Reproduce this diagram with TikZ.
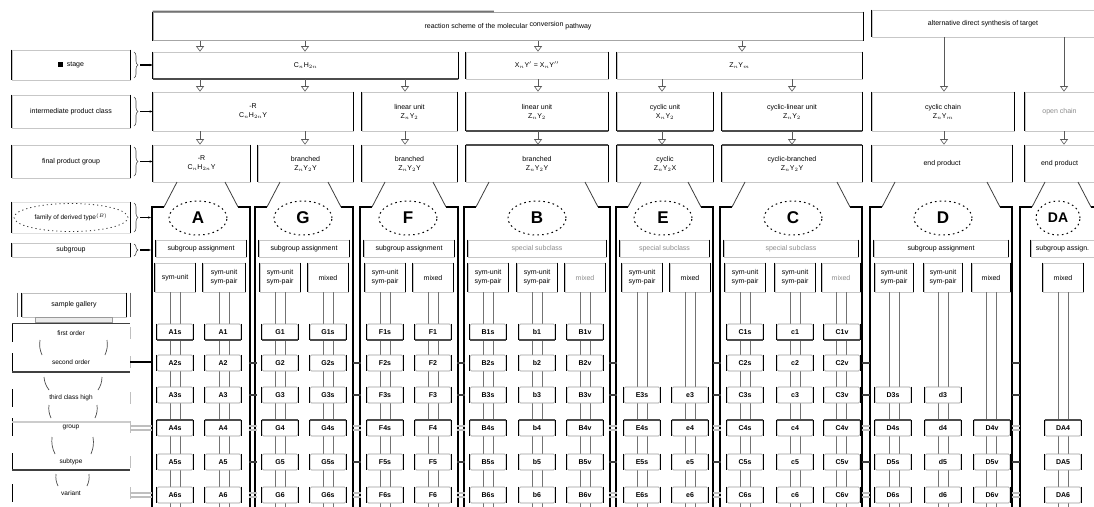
\documentclass[tikz,border=0pt]{standalone}
\usepackage{fontspec}
\setmainfont{Liberation Sans}
\usetikzlibrary{shapes.geometric,arrows.meta,decorations.pathreplacing,calc}
\newcommand\bxx[7][]{\node[bx,#1,minimum width={#4-#2},minimum height={#5-#3}] (#6) at ({(#2+#4)/2},{(#3+#5)/2}) {#7};}
\newcommand\scol[5]{%
  \draw[vl] ([xshift=-5pt]s#1.south) -- ++(0,216);
  \draw[vl] ([xshift=5pt]s#1.south) -- ++(0,216);
  \foreach \r/\y in {1/332,2/363,3/395,4/428,5/462,6/495}{%
    \ifnum\r<#3\relax\else\node[sb,row\r] (b#1r\r) at (#2,\y) {#4\r#5};\fi}}
\begin{document}
\begin{tikzpicture}[x=1pt,y=-1pt,
  sides/.style={append after command={(\tikzlastnode.north west) edge[draw=black,line width=1pt] (\tikzlastnode.south west) (\tikzlastnode.north east) edge[draw=black,line width=1pt] (\tikzlastnode.south east)}},
  tb/.style={append after command={(\tikzlastnode.north west) edge[draw=black!70,line width=1.8pt] (\tikzlastnode.north east)}},
  bb/.style={append after command={(\tikzlastnode.south west) edge[draw=black!70,line width=1.8pt] (\tikzlastnode.south east)}},
  bx/.style={draw=black!22, line width=0.7pt, sides, inner sep=1pt, align=center, font=\fontsize{7}{9}\selectfont},
  faint/.style={text=black!45},
  arr/.style={draw=black!65, line width=0.6pt, -{Triangle[open,length=5.5pt,width=8pt]}},
  panel/.style={draw=black, line width=1.3pt},
  diag/.style={draw=black!75, line width=0.8pt},
  elp/.style={ellipse, draw=black, line width=1pt, dash pattern=on 1.6pt off 3.2pt, minimum width=58, minimum height=34, inner sep=0, font=\fontsize{17}{17}\selectfont\bfseries},
  sb/.style={draw=black!40, line width=0.6pt, rounded corners=1.5pt, sides, minimum width=36, minimum height=16, inner sep=0, fill=white, font=\fontsize{7}{7}\selectfont\bfseries},
  row1/.style={bb}, row2/.style={}, row3/.style={}, row4/.style={tb}, row5/.style={}, row6/.style={},
  vl/.style={draw=black!55, line width=0.8pt},
  brc/.style={draw=black!70, line width=0.6pt, decorate, decoration={brace, amplitude=4pt}},
  tick/.style={draw=black!75, line width=1.6pt},
  lt/.style={draw=black!25, line width=1.2pt},
  cur/.style={draw=black!70, line width=0.7pt},
]
\fill[white] (0,0) rectangle (1094,506);
\useasboundingbox (0,0) rectangle (1094,506);

% ---------- top ----------
\bxx[draw=black!35, line width=1pt]{153}{12}{863}{40}{top}{reaction scheme of the molecular \raisebox{2pt}{conversion} pathway}
\draw[black!55, line width=1.6pt] (top.north west) -- ($(top.north west)!0.48!(top.north east)$);
\bxx{872}{10}{1094}{37}{topr}{alternative direct synthesis of target}
\foreach \x in {200,305,405,538,662,742,792,944,1064} \coordinate (X\x) at (\x,0);

% ---------- row 2 ----------
\bxx[bb]{153}{52}{458}{79}{r2a}{C$_n$H$_{2n}$}
\bxx{466}{52}{608}{79}{r2b}{X$_n$Y$'$ = X$_n$Y$''$}
\bxx{617}{52}{862}{79}{r2c}{Z$_n$Y$_m$}

% ---------- row 3 ----------
\bxx{153}{92}{353}{131}{r3a}{-R\\C$_n$H$_{2n}$Y}
\bxx{362}{92}{457}{131}{r3b}{linear unit\\Z$_n$Y$_2$}
\bxx[bb]{466}{92}{608}{131}{r3c}{linear unit\\Z$_n$Y$_2$}
\bxx[bb]{617}{92}{713}{131}{r3d}{cyclic unit\\X$_n$Y$_2$}
\bxx[bb]{722}{92}{862}{131}{r3e}{cyclic-linear unit\\Z$_n$Y$_2$}
\bxx{872}{92}{1014}{131}{r3f}{cyclic chain\\Z$_n$Y$_m$}
\bxx[faint]{1025}{92}{1094}{131}{r3g}{open chain}

% ---------- row 4 ----------
\bxx{153}{145}{250}{182}{r4a}{-R\\C$_n$H$_{2n}$Y}
\bxx{258}{145}{353}{182}{r4b}{branched\\Z$_n$Y$_2$Y}
\bxx{362}{145}{457}{182}{r4c}{branched\\Z$_n$Y$_2$Y}
\bxx[tb]{466}{145}{608}{182}{r4d}{branched\\Z$_n$Y$_2$Y}
\bxx[tb]{617}{145}{713}{182}{r4e}{cyclic\\Z$_n$Y$_2$X}
\bxx[tb]{722}{145}{862}{182}{r4f}{cyclic-branched\\Z$_n$Y$_2$Y}
\bxx{872}{145}{1012}{182}{r4g}{end product}
\bxx{1025}{145}{1094}{182}{r4h}{end product}

% ---------- arrows ----------
\draw[arr] (top.south -| X200) -- (r2a.north -| X200);
\draw[arr] (top.south -| X305) -- (r2a.north -| X305);
\draw[arr] (top.south -| X538) -- (r2b.north -| X538);
\draw[arr] (top.south -| X742) -- (r2c.north -| X742);
\draw[arr] (topr.south -| X944) -- (r3f.north -| X944);
\draw[arr] (topr.south -| X1064) -- (r3g.north -| X1064);
\draw[arr] (r2a.south -| X200) -- (r3a.north -| X200);
\draw[arr] (r2a.south -| X305) -- (r3a.north -| X305);
\draw[arr] (r2a.south -| X405) -- (r3b.north -| X405);
\draw[arr] (r2b.south -| X538) -- (r3c.north -| X538);
\draw[arr] (r2c.south -| X662) -- (r3d.north -| X662);
\draw[arr] (r2c.south -| X792) -- (r3e.north -| X792);
\draw[arr] (r3a.south -| X200) -- (r4a.north -| X200);
\draw[arr] (r3a.south -| X305) -- (r4b.north -| X305);
\draw[arr] (r3b.south -| X405) -- (r4c.north -| X405);
\draw[arr] (r3c.south -| X538) -- (r4d.north -| X538);
\draw[arr] (r3d.south -| X662) -- (r4e.north -| X662);
\draw[arr] (r3e.south -| X792) -- (r4f.north -| X792);
\draw[arr] (r3f.south -| X944) -- (r4g.north -| X944);
\draw[arr] (r3g.south -| X1064) -- (r4h.north -| X1064);

% ---------- panels ----------
\foreach \xl/\xr in {152/250,255/353,360/458,464/610,616/713,720/862,870/1012,1020/1103}{
  \draw[panel] (\xl,510) -- (\xl,207) -- ({\xl+12},207);
  \draw[panel] (\xr,510) -- (\xr,207) -- ({\xr-12},207);
  \draw[diag] ({\xl+12},207) -- ({\xl+25},182);
  \draw[diag] ({\xr-12},207) -- ({\xr-25},182);
}
\node[elp] (eA) at (198,218) {A};
\node[elp] (eG) at (303,218) {G};
\node[elp] (eF) at (408,218) {F};
\node[elp] (eB) at (537,218) {B};
\node[elp] (eE) at (663,218) {E};
\node[elp] (eC) at (793,218) {C};
\node[elp] (eD) at (943,218) {D};
\node[elp, minimum width=44, font=\fontsize{14}{14}\selectfont\bfseries] (eDA) at (1058,218) {DA};

\bxx{156}{240}{246}{257}{gA}{subgroup assignment}
\bxx{259}{240}{349}{257}{gG}{subgroup assignment}
\bxx{364}{240}{454}{257}{gF}{subgroup assignment}
\bxx[faint]{468}{240}{606}{257}{gB}{special subclass}
\bxx[faint]{620}{240}{709}{257}{gE}{special subclass}
\bxx[faint]{724}{240}{858}{257}{gC}{special subclass}
\bxx{874}{240}{1008}{257}{gD}{subgroup assignment}
\bxx{1031}{240}{1094}{257}{gDA}{subgroup assign.}

% sub boxes
\bxx{155}{263}{195}{292}{sA1}{sym-unit}
\bxx{203}{263}{245}{292}{sA2}{sym-unit\\sym-pair}
\bxx{260}{263}{300}{292}{sG1}{sym-unit\\sym-pair}
\bxx{308}{263}{348}{292}{sG2}{mixed}
\bxx{365}{263}{405}{292}{sF1}{sym-unit\\sym-pair}
\bxx{413}{263}{453}{292}{sF2}{mixed}
\bxx{468}{263}{508}{292}{sB1}{sym-unit\\sym-pair}
\bxx{517}{263}{557}{292}{sB2}{sym-unit\\sym-pair}
\bxx[faint]{565}{263}{605}{292}{sB3}{mixed}
\bxx{622}{263}{662}{292}{sE1}{sym-unit\\sym-pair}
\bxx{670}{263}{710}{292}{sE2}{mixed}
\bxx{725}{263}{765}{292}{sC1}{sym-unit\\sym-pair}
\bxx{775}{263}{815}{292}{sC2}{sym-unit\\sym-pair}
\bxx[faint]{822}{263}{860}{292}{sC3}{mixed}
\bxx{875}{263}{913}{292}{sD1}{sym-unit\\sym-pair}
\bxx{924}{263}{962}{292}{sD2}{sym-unit\\sym-pair}
\bxx{972}{263}{1010}{292}{sD3}{mixed}
\bxx{1043}{263}{1083}{292}{sDA1}{mixed}

% small box columns
\scol{A1}{175}{1}{A}{s}
\scol{A2}{223}{1}{A}{}
\scol{G1}{280}{1}{G}{}
\scol{G2}{328}{1}{G}{s}
\scol{F1}{385}{1}{F}{s}
\scol{F2}{433}{1}{F}{}
\scol{B1}{488}{1}{B}{s}
\scol{B2}{537}{1}{b}{}
\scol{B3}{585}{1}{B}{v}
\scol{E1}{642}{3}{E}{s}
\scol{E2}{690}{3}{e}{}
\scol{C1}{745}{1}{C}{s}
\scol{C2}{795}{1}{c}{}
\scol{C3}{842}{1}{C}{v}
\scol{D1}{893}{3}{D}{s}
\scol{D2}{943}{3}{d}{}
\scol{D3}{992}{4}{D}{v}
\scol{DA1}{1063}{4}{DA}{}

% ticks between panels
\foreach \xm in {252.5,356.5,461,613,716.5,866,1016}{
  \foreach \y in {363,395,462}{\draw[tick] ({\xm-4},\y) -- ({\xm+4},\y);}
  \foreach \y in {428,495}{\draw[lt] ({\xm-4},{\y-2}) -- ({\xm+4},{\y-2}); \draw[lt] ({\xm-4},{\y+2}) -- ({\xm+4},{\y+2});}
}

% ---------- left labels ----------
\bxx{12}{50}{130}{80}{l2}{\rule{5pt}{5pt}\ \ stage}
\bxx{12}{95}{130}{128}{l3}{intermediate product class}
\bxx{12}{145}{130}{178}{l4}{final product group}
\bxx[draw=black!12]{12}{202}{130}{233}{l5}{}
\node[ellipse, draw=black!80, line width=0.8pt, dash pattern=on 1.2pt off 3pt, minimum width=114, minimum height=28, inner sep=0, font=\fontsize{6.5}{8}\selectfont] (l5e) at (l5) {family of derived type$^{(B)}$};
\bxx{12}{243}{130}{257}{l6}{subgroup}

\foreach \n/\ya/\yb in {l2/52/78,l3/97/126,l4/147/176,l5/203/232,l6/244/256}{
  \draw[brc] (134,\ya) -- (134,\yb);
}
\coordinate (k2) at (140,65);
\coordinate (k3) at (140,111.5);
\coordinate (k4) at (140,161.5);
\coordinate (k5) at (140,217.5);
\coordinate (k6) at (140,250);
\draw[line width=1.2pt, -{Stealth[length=3pt]}] (k2) -- (r2a.west |- k2);
\draw[line width=1.2pt, -{Stealth[length=3pt]}] (k3) -- (r3a.west |- k3);
\draw[line width=1.2pt, -{Stealth[length=3pt]}] (k4) -- (r4a.west |- k4);
\coordinate (pA5) at (151,217.5);
\coordinate (pA6) at (151,250);
\draw[line width=1.2pt, -{Stealth[length=3pt]}] (k5) -- (pA5);
\draw[line width=1.2pt, -{Stealth[length=3pt]}] (k6) -- (pA6);

% sample set bracket
\bxx[draw=black!25]{22}{293}{126}{317}{smp}{sample gallery}
\draw[black!60, line width=0.6pt] (smp.north west) ++(-4,0) -- ++(0,24);
\draw[black!60, line width=0.6pt] (smp.north east) ++(4,0) -- ++(0,24);
\draw[black!40, fill=black!8, line width=0.6pt] (35,317) rectangle (112,322);
\draw[black!75, line width=1.6pt] (12,323.5) -- (130,323.5);

% row labels
\foreach \n/\y/\t in {1/333/first order,2/362/second order,3/398/third class high,4/427/group,5/462/subtype,6/493/variant}{
  \node[font=\fontsize{6.5}{8}\selectfont] (rl\n) at (71,\y) {\t};
  \draw[black, line width=1pt] (12,{\y-9}) -- (12,{\y+9});
  \draw[black!25, line width=0.8pt] (130,{\y-6}) -- (130,{\y+6});
}
\draw[black!75, line width=1.6pt] (12,372) -- (130,372);
\draw[black!20, line width=1.4pt] (12,422) -- (130,422);
\draw[black!75, line width=1.6pt] (12,470) -- (130,470);
\draw[cur] (40,340) to[bend right=15] (42,355);
\draw[cur] (107,340) to[bend left=15] (105,355);
\draw[cur] (44,377) to[bend right=15] (49,390);
\draw[cur] (102,377) to[bend left=15] (98,390);
\draw[cur] (49,405) to[bend right=15] (51,418);
\draw[cur] (97,405) to[bend left=15] (95,418);
\draw[cur] (52,437) to[bend right=15] (55,454);
\draw[cur] (93,437) to[bend left=15] (91,454);
\draw[cur] (56,474) to[bend right=15] (58,486);
\draw[cur] (89,474) to[bend left=15] (87,486);

% row links to panel A
\draw[black, line width=1.8pt] (rl2.east -| 130,0) -- (152,362);
\draw[lt] (130,426) -- (152,426); \draw[lt] (130,430) -- (152,430);
\draw[lt] (130,493) -- (152,493); \draw[lt] (130,497) -- (152,497);
\end{tikzpicture}
\end{document}
